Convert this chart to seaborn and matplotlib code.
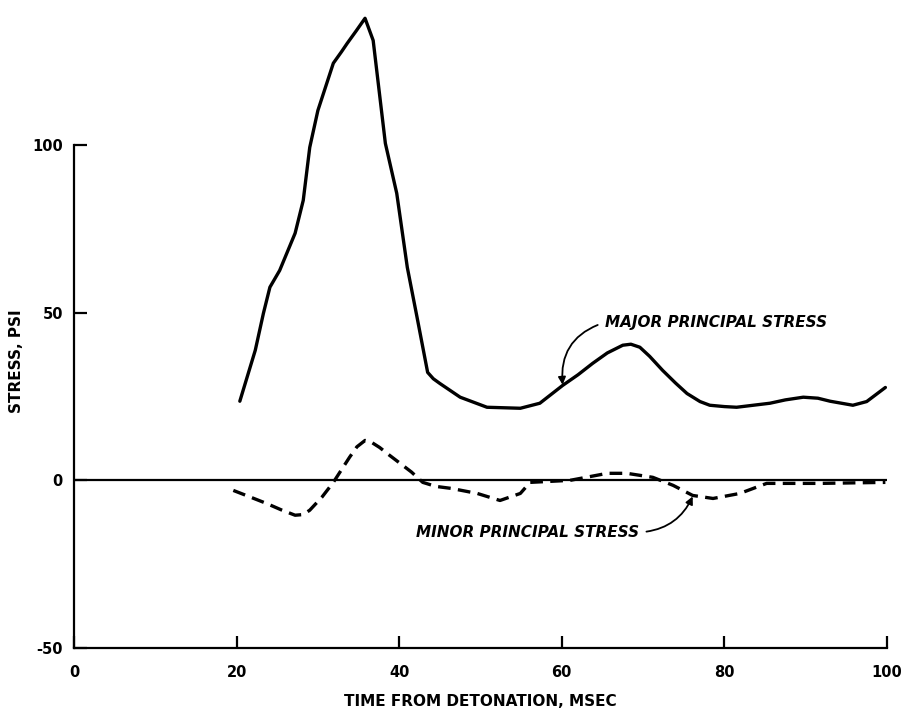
import numpy as np
import pandas as pd
import matplotlib
matplotlib.use("Agg")
import matplotlib.pyplot as plt
import seaborn as sns

# values (time in msec, stress in psi)
major_t = [20.4, 22.3, 23.3, 24.1, 25.3, 27.2, 28.2, 29.0, 30.0, 31.9, 32.9, 33.6,
           34.7, 35.8, 36.8, 38.3, 39.7, 41.0, 42.2, 43.5, 44.2, 45.0, 47.5, 50.8,
           54.9, 57.3, 60.1, 62.0, 63.8, 65.6, 67.5, 68.5, 69.6, 70.8, 72.4, 74.0,
           75.4, 77.0, 78.2, 80.0, 81.5, 85.6, 87.5, 89.7, 91.5, 93.0, 95.8, 97.5,
           99.8]
major_s = [23.6, 38.8, 49.8, 57.6, 62.6, 73.7, 83.5, 99.3, 110.3, 124.4, 127.8, 130.3,
           134.0, 137.8, 131.2, 100.5, 85.6, 63.5, 48.6, 32.2, 30.3, 28.9, 24.8, 21.8,
           21.5, 23.0, 28.3, 31.5, 34.9, 38.0, 40.3, 40.6, 39.7, 37.0, 32.8, 29.0,
           25.9, 23.5, 22.4, 22.0, 21.8, 23.0, 24.0, 24.8, 24.5, 23.6, 22.4, 23.5,
           27.7]

minor_t = [19.6, 21.5, 23.7, 25.5, 27.2, 28.2, 29.0, 30.5, 31.9, 33.9, 34.8, 35.8,
           36.5, 37.6, 38.8, 40.1, 41.5, 42.9, 44.5, 46.4, 49.6, 52.4, 54.9, 56.1,
           61.0, 65.6, 68.0, 71.2, 73.7, 76.1, 78.6, 81.9, 85.2, 91.8, 99.8]
minor_s = [-3.0, -4.8, -6.9, -8.8, -10.4, -10.2, -8.9, -5.0, -0.6, 6.9, 10.0, 11.9,
           11.5, 9.8, 7.5, 5.1, 2.5, -0.6, -1.8, -2.4, -3.9, -6.0, -3.9, -0.6,
           0.0, 2.1, 2.1, 0.9, -1.5, -4.5, -5.4, -3.9, -0.9, -0.9, -0.6]

x_ticks = [0, 20, 40, 60, 80, 100]
y_ticks = [-50, 0, 50, 100]

major_df = pd.DataFrame({"t": major_t, "s": major_s})
minor_df = pd.DataFrame({"t": minor_t, "s": minor_s})

sns.set_style("ticks")
plt.rcParams["font.family"] = ["DejaVu Sans"]
plt.rcParams["font.weight"] = "bold"
plt.rcParams["axes.unicode_minus"] = False
plt.rcParams["text.color"] = "black"
plt.rcParams["axes.labelcolor"] = "black"
plt.rcParams["xtick.color"] = "black"
plt.rcParams["ytick.color"] = "black"

fig = plt.figure(figsize=(9.12, 7.17), dpi=100)
ax = fig.add_axes([0.0811, 0.0962, 0.8915, 0.8886])

ax.axhline(0, color="black", lw=1.6, zorder=1)
sns.lineplot(data=major_df, x="t", y="s", ax=ax, color="black", lw=2.4,
             solid_joinstyle="round", solid_capstyle="round")
sns.lineplot(data=minor_df, x="t", y="s", ax=ax, color="black", lw=2.4,
             dashes=False, linestyle=(0, (3.8, 2.2)), dash_joinstyle="round")

ax.set_xlim(0, 100)
ax.set_ylim(-50, 140)
ax.set_xticks(x_ticks)
ax.set_yticks(y_ticks)
ax.tick_params(direction="in", length=9, width=1.6, labelsize=10.5)
ax.tick_params(axis="x", pad=12)
ax.tick_params(axis="y", pad=8)
for lab in ax.get_xticklabels() + ax.get_yticklabels():
    lab.set_fontweight("bold")

sns.despine(ax=ax)
ax.spines["left"].set_bounds(-50, 100)
ax.spines["left"].set_linewidth(1.6)
ax.spines["bottom"].set_linewidth(1.6)
ax.spines["left"].set_color("black")
ax.spines["bottom"].set_color("black")

ax.set_xlabel("TIME FROM DETONATION, MSEC", fontsize=11, fontweight="bold", labelpad=10)
ax.set_ylabel("STRESS, PSI", fontsize=11, fontweight="bold")
ax.yaxis.set_label_coords(-0.062, 0.45)

ax.annotate("MAJOR PRINCIPAL STRESS", xy=(60.1, 28.5), xytext=(65.3, 47.1),
            fontsize=11, fontweight="bold", fontstyle="italic", va="center", ha="left",
            arrowprops=dict(arrowstyle="-|>", color="black", lw=1.3, relpos=(0, 0.5),
                            connectionstyle="arc3,rad=0.4", shrinkA=3, shrinkB=0))
ax.annotate("MINOR PRINCIPAL STRESS", xy=(76.1, -4.8), xytext=(69.5, -15.5),
            fontsize=11, fontweight="bold", fontstyle="italic", va="center", ha="right",
            arrowprops=dict(arrowstyle="-|>", color="black", lw=1.3, relpos=(1, 0.5),
                            connectionstyle="arc3,rad=0.3", shrinkA=3, shrinkB=0))

fig.savefig("out.png", dpi=100)
